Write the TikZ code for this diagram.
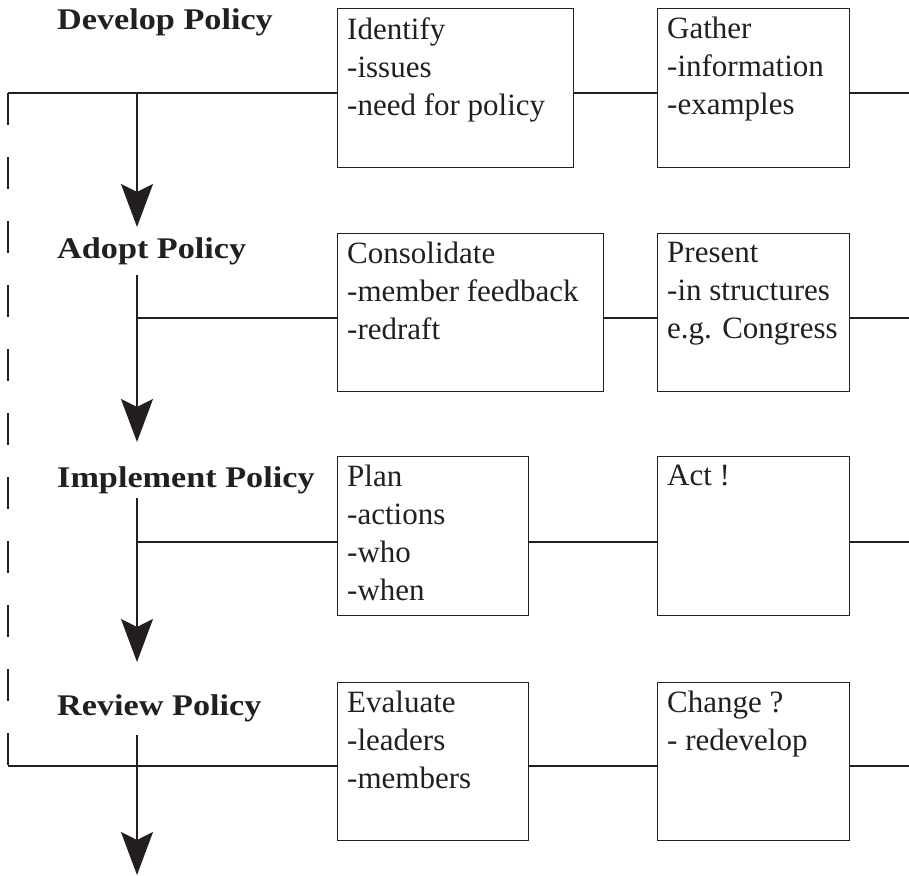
\documentclass[tikz,border=0pt]{standalone}
\usepackage{fontspec}
\setmainfont{Liberation Serif}
\newfontfamily\labelfont[FakeStretch=1.14]{Liberation Serif}
\usepackage{tikz}
\usetikzlibrary{arrows.meta, positioning, calc}
\definecolor{ink}{RGB}{35,31,32}
\tikzstyle{stagebox} = [rectangle, draw=ink, line width=1.3pt, inner sep=0pt, anchor=north west]
\tikzstyle{stagetext} = [anchor=north west, align=left, inner sep=0pt, text=ink, font=\fontsize{31}{38}\selectfont, xshift=10pt, yshift=-9pt]
\tikzstyle{stagelabel} = [anchor=base west, inner sep=0pt, text=ink, font=\labelfont\bfseries\fontsize{30}{36}\selectfont]
\tikzstyle{link} = [draw=ink, line width=1.3pt]
\tikzstyle{arrow} = [link, -{Stealth[length=43pt, width=32pt, inset=8pt]}]
\tikzstyle{loopback} = [link, dash pattern=on 32pt off 32pt]

\begin{document}
\begin{tikzpicture}[x=1pt, y=-1pt]
    \useasboundingbox (0,0) rectangle (909,875);

    % Stages
    \node (develop) [stagelabel] at (57,30) {Develop Policy};
    \node (adopt) [stagelabel] at (57,258) {Adopt Policy};
    \node (implement) [stagelabel] at (57,487) {Implement Policy};
    \node (review) [stagelabel] at (57,715) {Review Policy};

    % Boxes
    \node (identify) [stagebox, minimum width=236pt, minimum height=159pt] at (337,8) {};
    \node [stagetext] at (identify.north west) {Identify\\-issues\\-need for policy};
    \node (gather) [stagebox, minimum width=192pt, minimum height=159pt] at (657,8) {};
    \node [stagetext] at (gather.north west) {Gather\\-information\\-examples};

    \node (consolidate) [stagebox, minimum width=266pt, minimum height=158pt] at (337,233) {};
    \node [stagetext] at (consolidate.north west) {Consolidate\\-member feedback\\-redraft};
    \node (present) [stagebox, minimum width=192pt, minimum height=158pt] at (657,233) {};
    \node [stagetext] at (present.north west) {Present\\-in structures\\e.g. Congress};

    \node (plan) [stagebox, minimum width=191pt, minimum height=159pt] at (337,456) {};
    \node [stagetext] at (plan.north west) {Plan\\-actions\\-who\\-when};
    \node (act) [stagebox, minimum width=192pt, minimum height=159pt] at (657,456) {};
    \node [stagetext] at (act.north west) {Act !};

    \node (evaluate) [stagebox, minimum width=191pt, minimum height=158pt] at (337,682) {};
    \node [stagetext] at (evaluate.north west) {Evaluate\\-leaders\\-members};
    \node (change) [stagebox, minimum width=192pt, minimum height=158pt] at (657,682) {};
    \node [stagetext] at (change.north west) {Change ?\\- redevelop};

    % Spine points
    \coordinate (edge) at (909,0);
    \coordinate (top) at (8,93);
    \coordinate (bottom) at (8,766);
    \coordinate (fork1) at (137,93);
    \coordinate (tip1) at (137,227);
    \coordinate (fork2) at (137,275);
    \coordinate (join2) at (137,318);
    \coordinate (tip2) at (137,442);
    \coordinate (fork3) at (137,498);
    \coordinate (join3) at (137,542);
    \coordinate (tip3) at (137,662);
    \coordinate (fork4) at (137,735);
    \coordinate (tip4) at (137,875);

    % Rows
    \draw [link] (top) -- (top -| identify.west);
    \draw [link] (top -| identify.east) -- (top -| gather.west);
    \draw [link] (top -| gather.east) -- (top -| edge);
    \draw [link] (join2) -- (join2 -| consolidate.west);
    \draw [link] (join2 -| consolidate.east) -- (join2 -| present.west);
    \draw [link] (join2 -| present.east) -- (join2 -| edge);
    \draw [link] (join3) -- (join3 -| plan.west);
    \draw [link] (join3 -| plan.east) -- (join3 -| act.west);
    \draw [link] (join3 -| act.east) -- (join3 -| edge);
    \draw [link] (bottom) -- (bottom -| evaluate.west);
    \draw [link] (bottom -| evaluate.east) -- (bottom -| change.west);
    \draw [link] (bottom -| change.east) -- (bottom -| edge);

    % Arrows
    \draw [arrow] (fork1) -- (tip1);
    \draw [arrow] (fork2) -- (tip2);
    \draw [arrow] (fork3) -- (tip3);
    \draw [arrow] (fork4) -- (tip4);
    \draw [loopback] (top) -- (bottom);
\end{tikzpicture}
\end{document}
